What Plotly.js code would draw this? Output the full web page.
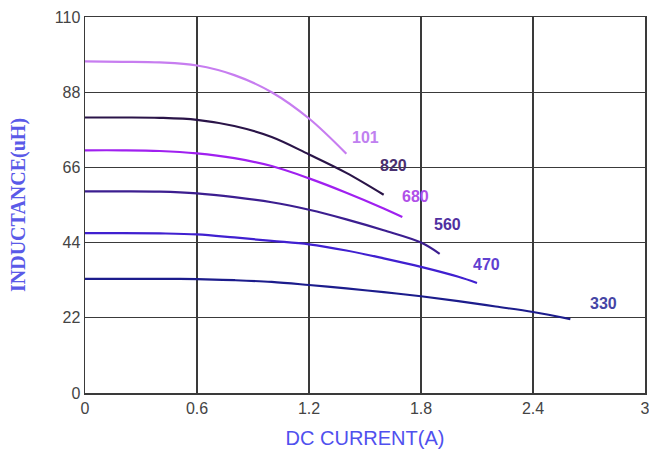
<!DOCTYPE html>
<html>
<head>
<meta charset="utf-8">
<script src="https://cdn.plot.ly/plotly-3.0.1.min.js"></script>
<style>html,body{margin:0;padding:0;background:#fff;}#chart{width:649px;height:451px;}</style>
</head>
<body>
<div id="chart"></div>
<script>
const seriesNames = ["101", "820", "680", "560", "470", "330"];
const x101 = [0, 0.2, 0.4, 0.6, 0.8, 1.0, 1.2, 1.4];
const y101 = [97, 96.9, 96.7, 95.8, 93, 88, 80.3, 70];
const x820 = [0, 0.2, 0.4, 0.6, 0.8, 1.0, 1.2, 1.4, 1.6];
const y820 = [80.6, 80.6, 80.5, 79.9, 78.1, 74.9, 69.8, 64.4, 58];
const x680 = [0, 0.2, 0.4, 0.6, 0.8, 1.0, 1.2, 1.4, 1.6, 1.7];
const y680 = [71, 71, 70.8, 70.1, 68.7, 66.4, 62.8, 58.6, 54, 51.5];
const x560 = [0, 0.2, 0.4, 0.6, 0.8, 1.0, 1.2, 1.4, 1.6, 1.8, 1.9];
const y560 = [59, 59, 58.9, 58.4, 57.3, 55.8, 53.6, 50.8, 47.6, 44, 40.7];
const x470 = [0, 0.2, 0.4, 0.6, 0.8, 1.0, 1.2, 1.4, 1.6, 1.8, 2.0, 2.1];
const y470 = [46.8, 46.8, 46.7, 46.4, 45.5, 44.5, 43.5, 41.7, 39.4, 36.9, 34, 32.2];
const x330 = [0, 0.2, 0.4, 0.6, 0.8, 1.0, 1.2, 1.4, 1.6, 1.8, 2.0, 2.2, 2.4, 2.6];
const y330 = [33.4, 33.4, 33.4, 33.3, 33, 32.5, 31.6, 30.6, 29.5, 28.3, 26.9, 25.3, 23.7, 21.6];
const labelX = [1.50, 1.65, 1.77, 1.94, 2.15, 2.78];
const labelY = [74.7, 66.5, 57.5, 49.3, 37.7, 26.3];
const xTicks = [0, 0.6, 1.2, 1.8, 2.4, 3];
const yTicks = [0, 22, 44, 66, 88, 110];

const xs = [x101, x820, x680, x560, x470, x330];
const ys = [y101, y820, y680, y560, y470, y330];
const lineColors = ["#c77df0", "#2a1448", "#a020f0", "#3c1e90", "#4020d0", "#1c1c8c"];
const labelColors = ["#c080f0", "#4a3070", "#b050e8", "#5030a0", "#6040d0", "#4545a5"];

const traces = seriesNames.map((n, i) => ({
  x: xs[i], y: ys[i], type: "scatter", mode: "lines", name: n,
  line: {color: lineColors[i], width: 2.2, shape: "spline", smoothing: 1},
  hoverinfo: "skip"
}));

const annotations = seriesNames.map((n, i) => ({
  x: labelX[i], y: labelY[i], xref: "x", yref: "y", text: "<b>" + n + "</b>",
  showarrow: false, font: {family: "Liberation Sans, Arial, sans-serif", size: 16, color: labelColors[i]}
}));

const layout = {
  width: 649, height: 451,
  margin: {l: 85, r: 4, t: 17, b: 58},
  paper_bgcolor: "#fff", plot_bgcolor: "#fff",
  showlegend: false,
  xaxis: {
    range: [0, 3], tickvals: xTicks, ticktext: xTicks.map(String),
    showgrid: true, gridcolor: "#3a3a3a", gridwidth: 1.3,
    showline: true, mirror: true, linecolor: "#3a3a3a", linewidth: 1.5,
    zeroline: false, ticks: "", ticklabeloverflow: "allow",
    tickfont: {family: "Liberation Sans, Arial, sans-serif", size: 16, color: "#444"},
    title: {text: "DC CURRENT(A)", standoff: 15, font: {family: "Liberation Sans, Arial, sans-serif", size: 20, color: "#5050ee"}}
  },
  yaxis: {
    range: [0, 110], tickvals: yTicks, ticktext: yTicks.map(String),
    showgrid: true, gridcolor: "#3a3a3a", gridwidth: 1.3,
    showline: true, mirror: true, linecolor: "#3a3a3a", linewidth: 1.5,
    zeroline: false, ticks: "",
    tickfont: {family: "Liberation Sans, Arial, sans-serif", size: 16, color: "#444"},
    title: {text: "<b>INDUCTANCE(uH)</b>", standoff: 24, font: {family: "Liberation Serif, Times New Roman, serif", size: 20, color: "#5a5ae8"}}
  },
  annotations: annotations
};

Plotly.newPlot("chart", traces, layout, {displayModeBar: false, staticPlot: true});
</script>
</body>
</html>
